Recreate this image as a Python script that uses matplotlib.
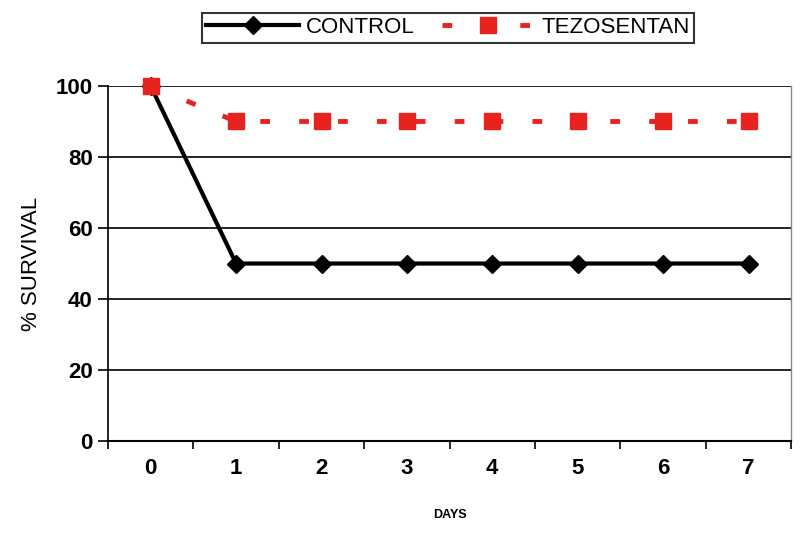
import matplotlib
matplotlib.use("Agg")
from matplotlib import pyplot as plt

days = [0, 1, 2, 3, 4, 5, 6, 7]
control = [100, 50, 50, 50, 50, 50, 50, 50]
tezosentan = [100, 90, 90, 90, 90, 90, 90, 90]
yticks = [0, 20, 40, 60, 80, 100]

plt.rcParams["font.family"] = ["Liberation Sans", "DejaVu Sans"]

fig = plt.figure(figsize=(8, 5.34), dpi=100)
ax = fig.add_axes([0.135, 0.174, 0.854, 0.665])

for y in yticks:
    ax.axhline(y, color="black", linewidth=1.2, zorder=1)

ax.plot(days, control, color="black", linewidth=3, marker="D", markersize=9,
        label="CONTROL", zorder=3, clip_on=False)
ax.plot(days, tezosentan, color="#e8231f", linewidth=3.5, linestyle=(0, (2, 6)),
        marker="s", markersize=12, label="TEZOSENTAN", zorder=4, clip_on=False)

ax.set_xlim(-0.5, 7.5)
ax.set_ylim(0, 100)
ax.set_yticks(yticks)
ax.set_xticks(days)
ax.set_xticks([d + 0.5 for d in days[:-1]] + [-0.5, 7.5], minor=True)
ax.tick_params(axis="x", which="major", length=0, pad=12)
ax.tick_params(axis="x", which="minor", length=6, width=1.2, direction="out")
ax.tick_params(axis="y", length=7, width=1.2, direction="out", pad=4)
for lab in ax.get_xticklabels() + ax.get_yticklabels():
    lab.set_fontsize(16)
    lab.set_fontweight("bold")

ax.spines["top"].set_visible(False)
ax.spines["left"].set_linewidth(1.2)
ax.spines["bottom"].set_linewidth(1.5)
ax.spines["right"].set_color("#888888")
ax.spines["right"].set_linewidth(1)

ax.set_ylabel("% SURVIVAL", fontsize=16, labelpad=10)
ax.set_xlabel("DAYS", fontsize=9, fontweight="bold", labelpad=22)

leg = fig.legend(loc="center", bbox_to_anchor=(0.56, 0.948), ncol=2, fontsize=16,
                 frameon=True, fancybox=False, edgecolor="black", handlelength=4.2,
                 columnspacing=1.2, handletextpad=0.3, borderpad=0.2)
leg.get_frame().set_linewidth(1.5)

fig.savefig("out.png", dpi=100)
plt.close()
